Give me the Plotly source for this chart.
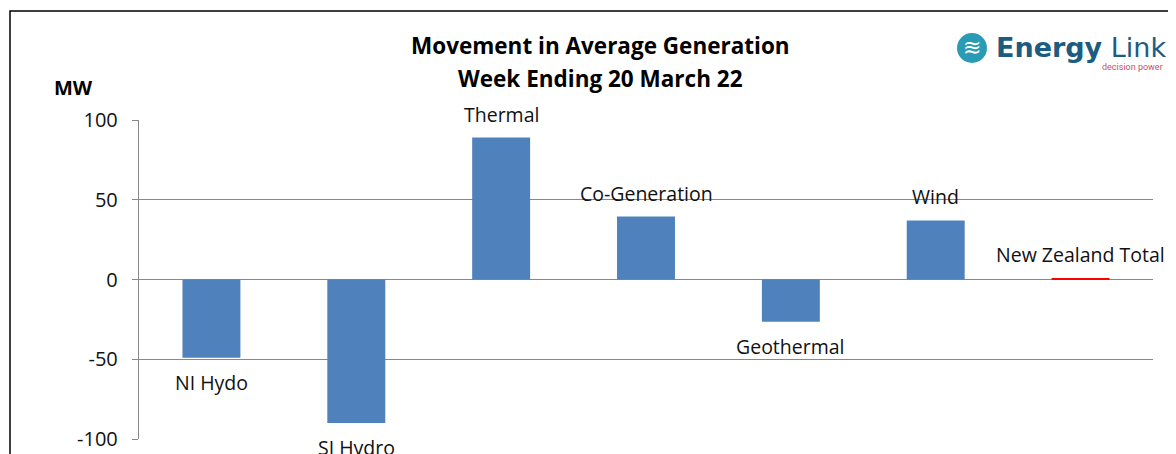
import plotly.graph_objects as go

categories = ["NI Hydo", "SI Hydro", "Thermal", "Co-Generation", "Geothermal", "Wind", "New Zealand Total"]
values = [-49, -90, 89, 39.5, -26.5, 37, 0.8]
bar_colors = ["#4F81BD"] * 6 + ["#FF0000"]
y_ticks = [-100, -50, 0, 50, 100]

FONT = "Open Sans"
# page offset: browser body margin of 8px
OFF = 8


def px(x):
    return (x - 139) / 1014


def py(y):
    return (439 - y) / 319


fig = go.Figure()
fig.add_trace(go.Bar(
    x=categories, y=values, marker=dict(color=bar_colors, line=dict(width=0)),
    width=0.4, hoverinfo="skip", showlegend=False,
))

for c, v in zip(categories, values):
    pos = v >= 0
    fig.add_annotation(
        x=c, y=v, xref="x", yref="y", text=c, showarrow=False,
        yanchor="bottom" if pos else "top",
        yshift=8 if pos else -9,
        font=dict(family=FONT, size=19.5, color="#111111"),
    )

fig.update_layout(
    width=1176 - OFF, height=454 - OFF,
    margin=dict(l=139 - OFF, r=23, t=120 - OFF, b=15, autoexpand=False),
    paper_bgcolor="white", plot_bgcolor="white",
    bargap=0.6,
    xaxis=dict(showticklabels=False, showgrid=False, zeroline=False, showline=False,
               ticks="", range=[-0.5, 6.5], automargin=False),
    yaxis=dict(range=[-100, 100], tickvals=y_ticks, ticktext=[str(t) for t in y_ticks],
               showgrid=True, gridcolor="#888888", gridwidth=1.4, automargin=False,
               zeroline=False, showline=True, linecolor="#888888", linewidth=1.4,
               ticks="outside", ticklen=6, tickcolor="#888888", tickwidth=1.4,
               ticklabelstandoff=10,
               tickfont=dict(family=FONT, size=20, color="#111111")),
    font=dict(family=FONT),
)

# Title
fig.add_annotation(xref="paper", yref="paper", x=px(600), y=py(46),
                   text="<b>Movement in Average Generation</b>", showarrow=False,
                   xanchor="center", yanchor="middle",
                   font=dict(family=FONT, size=22.5, color="#000000"))
fig.add_annotation(xref="paper", yref="paper", x=px(600), y=py(78),
                   text="<b>Week Ending 20 March 22</b>", showarrow=False,
                   xanchor="center", yanchor="middle",
                   font=dict(family=FONT, size=22.5, color="#000000"))
# MW label
fig.add_annotation(xref="paper", yref="paper", x=px(73), y=py(88),
                   text="<b>MW</b>", showarrow=False, xanchor="center", yanchor="middle",
                   font=dict(family=FONT, size=20, color="#000000"))

# Logo
fig.add_shape(type="circle", xref="paper", yref="paper",
              x0=px(957), x1=px(987), y0=py(63), y1=py(33),
              fillcolor="#2A9BB5", line=dict(width=0))
fig.add_annotation(xref="paper", yref="paper", x=px(972), y=py(48),
                   text="≋", showarrow=False, xanchor="center", yanchor="middle",
                   font=dict(family="DejaVu Sans", size=22, color="white"))
fig.add_annotation(xref="paper", yref="paper", x=px(994), y=py(47),
                   text="<b>Energy</b> Link", showarrow=False,
                   xanchor="left", yanchor="middle",
                   font=dict(family="DejaVu Sans", size=27, color="#1B5C80"))
fig.add_annotation(xref="paper", yref="paper", x=px(1165), y=py(67),
                   text="decision power", showarrow=False, xanchor="right", yanchor="middle",
                   font=dict(family="Roboto", size=9, color="#C8506A"))

# Outer border
fig.add_shape(type="rect", xref="paper", yref="paper",
              x0=px(10), x1=px(1200), y0=py(480), y1=py(11),
              line=dict(color="#000000", width=1.5), fillcolor="rgba(0,0,0,0)", layer="below")

fig.write_html("out.html")
